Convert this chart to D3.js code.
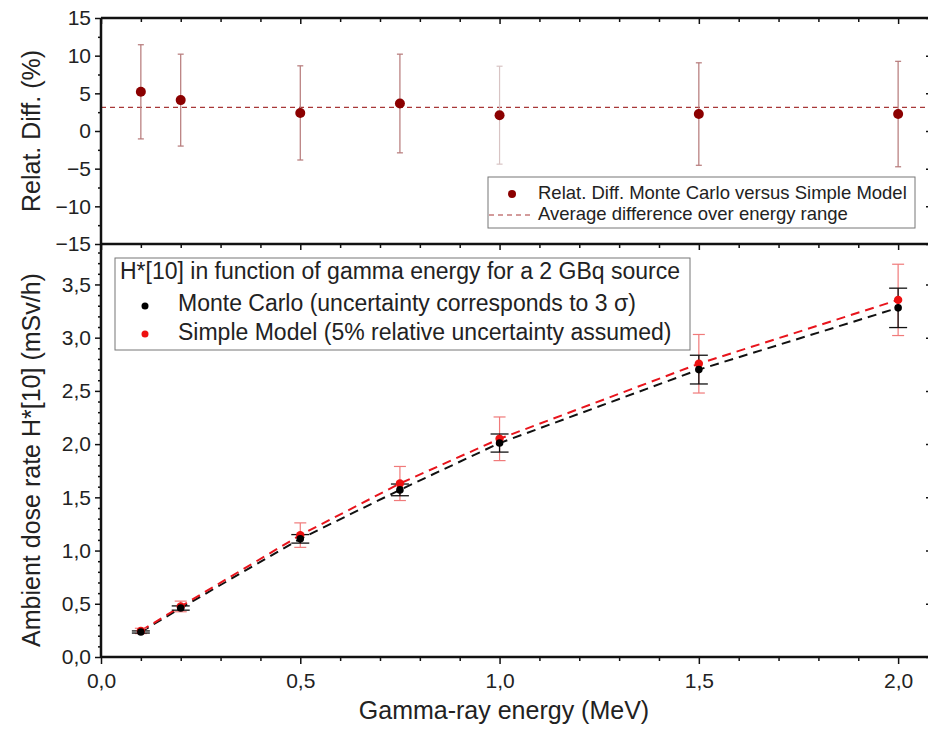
<!DOCTYPE html>
<html>
<head>
<meta charset="utf-8">
<script src="https://cdn.jsdelivr.net/npm/d3@7"></script>
<style>
  body { margin: 0; background: #fff; }
  text { font-family: "Liberation Sans", Arial, sans-serif; }
</style>
</head>
<body>
<div id="chart"></div>
<script>
// energies (MeV)
var energy = [0.1, 0.2, 0.5, 0.75, 1.0, 1.5, 2.0];

// top panel: relative difference (%)
var relDiff = [5.2, 4.1, 2.4, 3.65, 2.1, 2.25, 2.25];
var relDiffErr = [6.25, 6.1, 6.25, 6.55, 6.5, 6.8, 7.0];
var avgDiff = 3.13;

// bottom panel: H*[10] (mSv/h)
var monteCarlo = [0.235, 0.46, 1.11, 1.57, 2.01, 2.70, 3.28];
var monteCarloErr = [0.01, 0.02, 0.04, 0.055, 0.085, 0.135, 0.185];
var simpleModel = [0.245, 0.475, 1.145, 1.63, 2.05, 2.755, 3.355];
var simpleModelErr = [0.025, 0.05, 0.115, 0.16, 0.205, 0.275, 0.335];

var topTicks = [-15, -10, -5, 0, 5, 10, 15];
var botTicks = [0, 0.5, 1.0, 1.5, 2.0, 2.5, 3.0, 3.5];
var xTicks = [0, 0.5, 1.0, 1.5, 2.0];

var W = 928, H = 729;
var left = 101, right = 932;
var topY0 = 18, topY1 = 244, botY1 = 657;

var svg = d3.select("#chart").append("svg")
	.attr("width", W)
	.attr("height", H);

var x = d3.scaleLinear().domain([0, 2.085]).range([left, right]);
var yTop = d3.scaleLinear().domain([-15, 15]).range([topY1, topY0]);
var yBot = d3.scaleLinear().domain([0, 3.88]).range([botY1, topY1]);

var comma = function(d){ return d3.format(".1f")(d).replace(".", ","); };
var minorX = d3.range(0, 2.09, 0.1).filter(function(d){ return Math.abs(d*2 - Math.round(d*2)) > 1e-6; });

function styleAxis(sel){
	sel.select(".domain").remove();
	sel.selectAll("line").attr("stroke", "#111").attr("stroke-width", 1.5);
	sel.selectAll("text").attr("fill", "#222").attr("font-size", "21px")
		.attr("font-family", "Liberation Sans, Arial, sans-serif");
}

// ---------- top panel ----------
var gt = svg.append("g");

gt.append("line")
	.attr("x1", left).attr("x2", right)
	.attr("y1", yTop(avgDiff)).attr("y2", yTop(avgDiff))
	.attr("stroke", "#a83838").attr("stroke-width", 1.2)
	.attr("stroke-dasharray", "5,4");

var errColor = function(i){ return i === 4 ? "#d8c4c4" : "#b57878"; };

gt.selectAll(".ebar").data(energy).enter().append("line")
	.attr("x1", function(d){ return x(d); })
	.attr("x2", function(d){ return x(d); })
	.attr("y1", function(d, i){ return yTop(relDiff[i] + relDiffErr[i]); })
	.attr("y2", function(d, i){ return yTop(relDiff[i] - relDiffErr[i]); })
	.attr("stroke", function(d, i){ return errColor(i); }).attr("stroke-width", 1.2);

[1, -1].forEach(function(s){
	gt.selectAll(".ecap" + s).data(energy).enter().append("line")
		.attr("x1", function(d){ return x(d) - 3; })
		.attr("x2", function(d){ return x(d) + 3; })
		.attr("y1", function(d, i){ return yTop(relDiff[i] + s * relDiffErr[i]); })
		.attr("y2", function(d, i){ return yTop(relDiff[i] + s * relDiffErr[i]); })
		.attr("stroke", function(d, i){ return errColor(i); }).attr("stroke-width", 1.2);
});

gt.selectAll(".pt").data(energy).enter().append("circle")
	.attr("cx", function(d){ return x(d); })
	.attr("cy", function(d, i){ return yTop(relDiff[i]); })
	.attr("r", 5)
	.attr("fill", "#8b0000");

// axes of top panel
gt.append("g").attr("transform", "translate(" + left + ",0)")
	.call(d3.axisLeft(yTop).tickValues(topTicks).tickSize(6).tickPadding(4).tickFormat(d3.format("d")))
	.call(styleAxis);
gt.append("g").attr("transform", "translate(" + left + ",0)")
	.call(d3.axisLeft(yTop).tickValues([-12.5, -7.5, -2.5, 2.5, 7.5, 12.5]).tickSize(3).tickFormat(""))
	.call(styleAxis);
gt.append("g").attr("transform", "translate(0," + topY0 + ")")
	.call(d3.axisBottom(x).tickValues(xTicks).tickSize(6).tickFormat(""))
	.call(styleAxis);
gt.append("g").attr("transform", "translate(0," + topY0 + ")")
	.call(d3.axisBottom(x).tickValues(minorX).tickSize(4).tickFormat(""))
	.call(styleAxis);
gt.append("g").attr("transform", "translate(" + right + ",0)")
	.call(d3.axisLeft(yTop).tickValues(topTicks).tickSize(6).tickFormat(""))
	.call(styleAxis);

gt.append("text")
	.attr("transform", "translate(33," + ((topY0 + topY1) / 2) + ") rotate(-90)")
	.attr("text-anchor", "middle")
	.attr("dominant-baseline", "middle")
	.attr("font-size", "25px")
	.attr("fill", "#222")
	.text("Relat. Diff. (%)");

// top legend
var lt = gt.append("g");
lt.append("rect").attr("x", 488).attr("y", 177).attr("width", 427).attr("height", 51)
	.attr("fill", "#fff").attr("stroke", "#777").attr("stroke-width", 1);
lt.append("circle").attr("cx", 512).attr("cy", 194).attr("r", 4).attr("fill", "#8b0000");
lt.append("line").attr("x1", 489).attr("x2", 533).attr("y1", 215).attr("y2", 215)
	.attr("stroke", "#a83838").attr("stroke-width", 1.2).attr("stroke-dasharray", "5,4");
lt.append("text").attr("x", 538).attr("y", 194).attr("dominant-baseline", "middle")
	.attr("font-size", "18.5px").attr("fill", "#222")
	.text("Relat. Diff. Monte Carlo versus Simple Model");
lt.append("text").attr("x", 538).attr("y", 215).attr("dominant-baseline", "middle")
	.attr("font-size", "18.5px").attr("fill", "#222")
	.text("Average difference over energy range");

// ---------- bottom panel ----------
var gb = svg.append("g");

var line = function(vals){
	return d3.line()
		.x(function(d){ return x(d); })
		.y(function(d, i){ return yBot(vals[i]); })(energy);
};

gb.append("path").attr("d", line(monteCarlo))
	.attr("fill", "none").attr("stroke", "#111").attr("stroke-width", 2)
	.attr("stroke-dasharray", "9,6");
gb.append("path").attr("d", line(simpleModel))
	.attr("fill", "none").attr("stroke", "#e8141c").attr("stroke-width", 2)
	.attr("stroke-dasharray", "9,6");

function errorBars(vals, errs, color, w, capHalf){
	var g = gb.append("g");
	g.selectAll("line.v").data(energy).enter().append("line")
		.attr("x1", function(d){ return x(d); })
		.attr("x2", function(d){ return x(d); })
		.attr("y1", function(d, i){ return yBot(vals[i] + errs[i]); })
		.attr("y2", function(d, i){ return yBot(vals[i] - errs[i]); })
		.attr("stroke", color).attr("stroke-width", w);
	[1, -1].forEach(function(s){
		g.selectAll("line.c" + (s > 0 ? "p" : "m")).data(energy).enter().append("line")
			.attr("x1", function(d){ return x(d) - capHalf; })
			.attr("x2", function(d){ return x(d) + capHalf; })
			.attr("y1", function(d, i){ return yBot(vals[i] + s * errs[i]); })
			.attr("y2", function(d, i){ return yBot(vals[i] + s * errs[i]); })
			.attr("stroke", color).attr("stroke-width", w);
	});
}
errorBars(simpleModel, simpleModelErr, "#f07a7a", 1.2, 6);
errorBars(monteCarlo, monteCarloErr, "#111", 1.3, 9);

gb.selectAll(".sm").data(energy).enter().append("circle")
	.attr("cx", function(d){ return x(d); })
	.attr("cy", function(d, i){ return yBot(simpleModel[i]); })
	.attr("r", 4.2).attr("fill", "#ee1111");
gb.selectAll(".mc").data(energy).enter().append("circle")
	.attr("cx", function(d){ return x(d); })
	.attr("cy", function(d, i){ return yBot(monteCarlo[i]); })
	.attr("r", 3.8).attr("fill", "#000");

// axes of bottom panel
var minorY = d3.range(0, 3.85, 0.1).filter(function(d){ return Math.abs(d*2 - Math.round(d*2)) > 1e-6; });
gb.append("g").attr("transform", "translate(" + left + ",0)")
	.call(d3.axisLeft(yBot).tickValues(botTicks).tickSize(6).tickPadding(4).tickFormat(comma))
	.call(styleAxis);
gb.append("g").attr("transform", "translate(" + left + ",0)")
	.call(d3.axisLeft(yBot).tickValues(minorY).tickSize(3).tickFormat(""))
	.call(styleAxis);
gb.append("g").attr("transform", "translate(0," + botY1 + ")")
	.call(d3.axisBottom(x).tickValues(xTicks).tickSize(7).tickPadding(9).tickFormat(comma))
	.call(styleAxis);
gb.append("g").attr("transform", "translate(0," + botY1 + ")")
	.call(d3.axisBottom(x).tickValues(minorX).tickSize(4).tickFormat(""))
	.call(styleAxis);
gb.append("g").attr("transform", "translate(0," + topY1 + ")")
	.call(d3.axisBottom(x).tickValues(xTicks).tickSize(6).tickFormat(""))
	.call(styleAxis);
gb.append("g").attr("transform", "translate(0," + topY1 + ")")
	.call(d3.axisBottom(x).tickValues(minorX).tickSize(4).tickFormat(""))
	.call(styleAxis);
gb.append("g").attr("transform", "translate(" + right + ",0)")
	.call(d3.axisLeft(yBot).tickValues(botTicks).tickSize(6).tickFormat(""))
	.call(styleAxis);

// frame lines
var frame = svg.append("g").attr("stroke", "#111").attr("stroke-width", 2.5);
frame.append("line").attr("x1", left).attr("x2", left).attr("y1", topY0).attr("y2", botY1);
frame.append("line").attr("x1", left).attr("x2", right).attr("y1", topY0).attr("y2", topY0);
frame.append("line").attr("x1", left).attr("x2", right).attr("y1", topY1).attr("y2", topY1);
frame.append("line").attr("x1", left).attr("x2", right).attr("y1", botY1).attr("y2", botY1);
frame.append("line").attr("x1", right).attr("x2", right).attr("y1", topY0).attr("y2", botY1);

gb.append("text")
	.attr("transform", "translate(33,460) rotate(-90)")
	.attr("text-anchor", "middle")
	.attr("dominant-baseline", "middle")
	.attr("font-size", "25px")
	.attr("fill", "#222")
	.text("Ambient dose rate H*[10] (mSv/h)");

gb.append("text")
	.attr("x", 504).attr("y", 712)
	.attr("text-anchor", "middle")
	.attr("dominant-baseline", "middle")
	.attr("font-size", "25px")
	.attr("fill", "#222")
	.text("Gamma-ray energy (MeV)");

// bottom legend
var lb = gb.append("g");
lb.append("rect").attr("x", 115).attr("y", 258).attr("width", 575).attr("height", 92)
	.attr("fill", "#fff").attr("stroke", "#777").attr("stroke-width", 1);
lb.append("text").attr("x", 120).attr("y", 273).attr("dominant-baseline", "middle")
	.attr("font-size", "23px").attr("fill", "#222")
	.text("H*[10] in function of gamma energy for a 2 GBq source");
lb.append("circle").attr("cx", 145).attr("cy", 306).attr("r", 3.5).attr("fill", "#000");
lb.append("text").attr("x", 178).attr("y", 305).attr("dominant-baseline", "middle")
	.attr("font-size", "23px").attr("fill", "#222")
	.text("Monte Carlo (uncertainty corresponds to 3 σ)");
lb.append("circle").attr("cx", 145).attr("cy", 334).attr("r", 3.5).attr("fill", "#ee1111");
lb.append("text").attr("x", 178).attr("y", 334).attr("dominant-baseline", "middle")
	.attr("font-size", "23px").attr("fill", "#222")
	.text("Simple Model (5% relative uncertainty assumed)");
</script>
</body>
</html>
